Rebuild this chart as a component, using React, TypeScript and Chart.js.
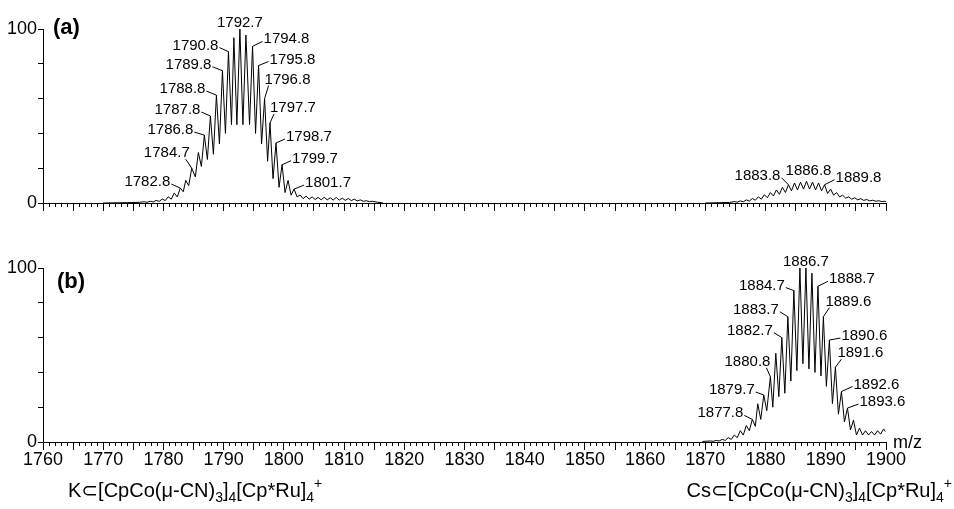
import React, { useEffect, useRef } from "react";
import { Chart, registerables } from "chart.js";
Chart.register(...registerables);

const FONT = "'Liberation Sans', Arial, Helvetica, 'DejaVu Sans', sans-serif";

// ---- axes ----
const X_MIN = 1760;
const X_MAX = 1900;
const X_MINOR_STEP = 1;
const X_MAJOR_STEP = 5;
const X_LABEL_STEP = 10;
const Y_MIN = 0;
const Y_MAX = 100;
const Y_STEP = 10;
const Y_TICK_TEXT: Record<number, string> = { 100: "100", 50: "%", 0: "0" };
const X_UNIT = "m/z";

// ---- spectrum (a): K cluster ----
const SPEC_A_K: [number, number][] = [
  [1770, 0], [1774, 0.2], [1776, 0.4],
  [1776.8, 0.7], [1777.3, 0.4], [1777.8, 1.0], [1778.3, 0.6], [1778.8, 1.5], [1779.3, 0.9],
  [1779.8, 2.3], [1780.3, 1.4], [1780.8, 3.6], [1781.3, 2.2], [1781.8, 5.7], [1782.3, 3.5],
  [1782.8, 8.6], [1783.3, 6.5], [1783.7, 13], [1784.2, 10], [1784.7, 20], [1785.3, 15],
  [1785.8, 29], [1786.3, 21], [1786.8, 39], [1787.3, 25], [1787.8, 50], [1788.3, 28],
  [1788.8, 62], [1789.3, 34], [1789.8, 76], [1790.3, 40], [1790.8, 87], [1791.3, 45],
  [1791.7, 95], [1792.2, 45], [1792.7, 100], [1793.2, 45], [1793.7, 96.5], [1794.3, 45],
  [1794.8, 90], [1795.3, 40], [1795.8, 79], [1796.3, 34], [1796.8, 60], [1797.3, 24],
  [1797.7, 46], [1798.2, 14], [1798.7, 34.5], [1799.2, 9], [1799.7, 22], [1800.2, 6],
  [1800.7, 13], [1801.2, 4.5], [1801.7, 8], [1802.2, 3.5], [1802.7, 4.6], [1803.2, 2.5],
  [1803.7, 4], [1804.2, 2.2], [1804.7, 3.5], [1805.2, 2], [1805.7, 3.2], [1806.2, 1.8],
  [1806.7, 3.3], [1807.2, 1.8], [1807.7, 3.0], [1808.2, 1.7], [1808.7, 3.2], [1809.2, 1.6],
  [1809.7, 2.8], [1810.2, 1.5], [1810.7, 2.6], [1811.2, 1.4], [1811.7, 2.2], [1812.2, 1.2],
  [1812.7, 1.8], [1813.2, 1.0], [1813.7, 1.3], [1814.2, 0.8], [1814.7, 1.0], [1815.5, 0.5],
  [1816.5, 0],
];

// ---- spectrum (a): Cs cluster ----
const SPEC_A_CS: [number, number][] = [
  [1870, 0], [1874, 0.3], [1874.8, 0.8], [1875.3, 0.5], [1875.8, 1.2], [1876.3, 0.7],
  [1876.8, 1.8], [1877.3, 1.1], [1877.8, 2.6], [1878.3, 1.6], [1878.8, 3.5], [1879.3, 2.2],
  [1879.8, 4.8], [1880.3, 3.0], [1880.8, 6.0], [1881.3, 4.0], [1881.8, 7.5], [1882.3, 5.0],
  [1882.8, 9.0], [1883.3, 6.0], [1883.8, 10.5], [1884.3, 7.0], [1884.8, 11.5], [1885.3, 7.5],
  [1885.8, 12.0], [1886.3, 8.0], [1886.8, 12.5], [1887.3, 8.0], [1887.8, 12.0], [1888.3, 7.5],
  [1888.8, 11.5], [1889.3, 7.0], [1889.8, 10.5], [1890.3, 5.5], [1890.8, 8.0], [1891.3, 4.5],
  [1891.8, 6.0], [1892.3, 3.5], [1892.8, 4.5], [1893.3, 2.8], [1893.8, 3.5], [1894.3, 2.2],
  [1894.8, 3.0], [1895.3, 1.8], [1895.8, 2.5], [1896.3, 1.5], [1896.8, 2.0], [1897.3, 1.2],
  [1897.8, 1.6], [1898.3, 1.0], [1898.8, 1.3], [1899.3, 0.8], [1899.8, 1.0], [1900, 0.8],
];

// ---- spectrum (b): Cs cluster ----
const SPEC_B_CS: [number, number][] = [
  [1869.5, 0.3], [1870.8, 0.6], [1871.3, 0.4], [1871.8, 0.9], [1872.3, 0.6], [1872.8, 1.5],
  [1873.3, 0.9], [1873.8, 2.5], [1874.3, 1.5], [1874.8, 4], [1875.3, 2.5], [1875.8, 6.5],
  [1876.3, 4], [1876.8, 9.5], [1877.3, 6.5], [1877.8, 13], [1878.3, 9], [1878.7, 22],
  [1879.2, 13], [1879.7, 27], [1880.2, 18], [1880.8, 37.5], [1881.2, 20], [1881.7, 51],
  [1882.2, 26], [1882.7, 60], [1883.2, 28], [1883.7, 72], [1884.2, 35], [1884.7, 87],
  [1885.2, 41], [1885.7, 100], [1886.2, 45], [1886.7, 100], [1887.2, 42], [1887.7, 97],
  [1888.2, 40], [1888.7, 89.5], [1889.2, 38], [1889.6, 72], [1890.1, 32], [1890.6, 58.6],
  [1891.1, 22], [1891.6, 43], [1892.1, 16], [1892.6, 29], [1893.1, 11.5], [1893.6, 19.5],
  [1894.1, 7], [1894.6, 12.5], [1895.1, 4], [1895.6, 8], [1896.1, 4], [1896.6, 6.5],
  [1897.1, 4], [1897.6, 6], [1898.1, 4], [1898.6, 6.5], [1899.1, 4.5], [1899.6, 7.5],
  [1899.9, 6],
];

// ---- peak labels (m/z of labelled peaks) ----
const LABELS_A = [1782.8, 1784.7, 1786.8, 1787.8, 1788.8, 1789.8, 1790.8, 1792.7, 1794.8,
  1795.8, 1796.8, 1797.7, 1798.7, 1799.7, 1801.7, 1883.8, 1886.8, 1889.8];
const LABELS_B = [1877.8, 1879.7, 1880.8, 1882.7, 1883.7, 1884.7, 1886.7, 1888.7, 1889.6,
  1890.6, 1891.6, 1892.6, 1893.6];

// ---- panel captions and formulas ----
const TAG_A = "(a)";
const TAG_B = "(b)";
type Part = [string, "n" | "sub" | "sup"];
const FORMULA_K: Part[] = [["K⊂[CpCo(μ-CN)", "n"], ["3", "sub"], ["]", "n"], ["4", "sub"],
  ["[Cp*Ru]", "n"], ["4", "sub"], ["+", "sup"]];
const FORMULA_CS: Part[] = [["Cs⊂[CpCo(μ-CN)", "n"], ["3", "sub"], ["]", "n"], ["4", "sub"],
  ["[Cp*Ru]", "n"], ["4", "sub"], ["+", "sup"]];

// ---- label layout (align, dx, dy of text anchor vs. peak tip; layout only) ----
type Lay = ["left" | "right" | "center", number, number];
const LAYOUT_A: Lay[] = [
  ["right", -10, -2], ["right", -2, -11], ["right", -11, -1], ["right", -10, -2],
  ["right", -11, -2], ["right", -11, -2], ["right", -10, -2], ["center", 0, -2],
  ["left", 11, -3], ["left", 11, -2], ["left", 0, -15], ["left", 0, -11],
  ["left", 10, -2], ["left", 10, -2], ["left", 11, -2],
  ["right", -8, -5], ["center", 2, -6], ["left", 11, -3],
];
const LAYOUT_B: Lay[] = [
  ["right", -9, -2], ["right", -9, -1], ["right", 0, -11], ["right", -9, -3],
  ["right", -9, -3], ["right", -9, -1], ["center", 0, -2], ["left", 11, -3],
  ["left", 2, -11], ["left", 12, 0], ["left", 2, -10], ["left", 12, -3], ["left", 12, -2],
];

function drawRich(ctx: CanvasRenderingContext2D, parts: Part[], x: number, y: number, align: "left" | "right") {
  const sizes = { n: 20, sub: 14, sup: 14 };
  const offs = { n: 0, sub: 5, sup: -9 };
  let total = 0;
  parts.forEach(([t, k]) => {
    ctx.font = `${sizes[k]}px ${FONT}`;
    total += ctx.measureText(t).width;
  });
  let cx = align === "left" ? x : x - total;
  ctx.textAlign = "left";
  ctx.textBaseline = "alphabetic";
  parts.forEach(([t, k]) => {
    ctx.font = `${sizes[k]}px ${FONT}`;
    ctx.fillText(t, cx, y + offs[k]);
    cx += ctx.measureText(t).width;
  });
}

type PanelCfg = {
  series: [number, number][][];
  labels: number[];
  layout: Lay[];
  tag: string;
  tagX: number;
  tagY: number;
  showXLabels: boolean;
  padTop: number;
  xAxisHeight: number;
  extra?: (ctx: CanvasRenderingContext2D) => void;
};

function buildPanel(canvas: HTMLCanvasElement, cfg: PanelCfg) {
  const allPts = cfg.series.flat();
  const plugin = {
    id: "annot",
    afterDraw(chart: any) {
      const ctx: CanvasRenderingContext2D = chart.ctx;
      const xs = chart.scales.x;
      const ys = chart.scales.y;
      ctx.save();
      ctx.strokeStyle = "#000";
      ctx.fillStyle = "#000";
      ctx.lineWidth = 1;
      // major x ticks
      for (let v = X_MIN; v <= X_MAX; v += X_MAJOR_STEP) {
        const x = Math.round(xs.getPixelForValue(v) - 0.5) + 0.5;
        ctx.beginPath();
        ctx.moveTo(x, xs.top);
        ctx.lineTo(x, xs.top + 8);
        ctx.stroke();
      }
      // peak labels
      ctx.font = `15px ${FONT}`;
      ctx.textBaseline = "alphabetic";
      cfg.labels.forEach((mz, i) => {
        const pt = allPts.find((p) => Math.abs(p[0] - mz) < 1e-6);
        if (!pt) return;
        const px = xs.getPixelForValue(pt[0]);
        const py = ys.getPixelForValue(pt[1]);
        const [align, dx, dy] = cfg.layout[i];
        const text = mz.toFixed(1);
        const w = ctx.measureText(text).width;
        let left: number;
        if (align === "right") left = px + dx - w;
        else if (align === "left") left = px + dx;
        else left = px + dx - w / 2;
        const right = left + w;
        const base = py + dy;
        ctx.textAlign = "left";
        ctx.fillText(text, left, base);
        if (align !== "center") {
          let sx: number, sy: number;
          if (px > right + 4) { sx = right + 1; sy = base - 2; }
          else if (px < left - 4) { sx = left - 1; sy = base - 2; }
          else { sx = Math.min(Math.max(px, left + 4), right - 4); sy = base + 2; }
          ctx.beginPath();
          ctx.moveTo(sx, sy);
          ctx.lineTo(px, py);
          ctx.stroke();
        }
      });
      // panel tag
      ctx.font = `bold 22px ${FONT}`;
      ctx.textAlign = "left";
      ctx.fillText(cfg.tag, cfg.tagX, cfg.tagY);
      if (cfg.extra) cfg.extra(ctx);
      ctx.restore();
    },
  };

  return new Chart(canvas, {
    type: "line",
    data: {
      datasets: cfg.series.map((s) => ({
        data: s.map(([x, y]) => ({ x, y })),
        borderColor: "#000",
        borderWidth: 1,
        pointRadius: 0,
        tension: 0,
        fill: false,
      })),
    },
    options: {
      animation: false,
      responsive: false,
      devicePixelRatio: 1,
      events: [],
      layout: { padding: { top: cfg.padTop, right: 68, left: 0, bottom: 0 } },
      plugins: { legend: { display: false }, tooltip: { enabled: false } },
      scales: {
        x: {
          type: "linear",
          min: X_MIN,
          max: X_MAX,
          afterFit: (s: any) => { s.height = cfg.xAxisHeight; },
          ticks: {
            stepSize: X_MINOR_STEP,
            autoSkip: false,
            maxRotation: 0,
            minRotation: 0,
            padding: 3,
            color: "#000",
            font: { family: FONT, size: 18 },
            callback: (v: any) => (cfg.showXLabels && Number(v) % X_LABEL_STEP === 0 ? String(v) : ""),
          },
          grid: { display: true, drawOnChartArea: false, drawTicks: true, tickLength: 4, color: "#000", lineWidth: 1 },
          border: { display: true, color: "#000", width: 1 },
        },
        y: {
          type: "linear",
          min: Y_MIN,
          max: Y_MAX,
          afterFit: (s: any) => { s.width = 43; },
          ticks: {
            stepSize: Y_STEP,
            padding: 1,
            color: "#000",
            font: { family: FONT, size: 18 },
            callback: (v: any) => Y_TICK_TEXT[Number(v)] ?? "",
          },
          grid: { display: true, drawOnChartArea: false, drawTicks: true, tickLength: 5, color: "#000", lineWidth: 1 },
          border: { display: true, color: "#000", width: 1 },
        },
      },
    } as any,
    plugins: [plugin],
  });
}

export default function App() {
  const refA = useRef<HTMLCanvasElement>(null);
  const refB = useRef<HTMLCanvasElement>(null);
  useEffect(() => {
    const a = buildPanel(refA.current!, {
      series: [SPEC_A_K, SPEC_A_CS],
      labels: LABELS_A,
      layout: LAYOUT_A,
      tag: TAG_A,
      tagX: 53,
      tagY: 34,
      showXLabels: false,
      padTop: 29,
      xAxisHeight: 17,
    });
    const b = buildPanel(refB.current!, {
      series: [SPEC_B_CS],
      labels: LABELS_B,
      layout: LAYOUT_B,
      tag: TAG_B,
      tagX: 57,
      tagY: 48,
      showXLabels: true,
      padTop: 28,
      xAxisHeight: 67,
      extra: (ctx) => {
        ctx.font = `18px ${FONT}`;
        ctx.textAlign = "left";
        ctx.textBaseline = "alphabetic";
        ctx.fillText(X_UNIT, 893, 208);
        drawRich(ctx, FORMULA_K, 68, 257, "left");
        drawRich(ctx, FORMULA_CS, 952, 257, "right");
      },
    });
    return () => { a.destroy(); b.destroy(); };
  }, []);
  return (
    <div style={{ position: "absolute", left: 0, top: 0, width: 954, height: 509, background: "#fff" }}>
      <canvas ref={refA} width={954} height={220} style={{ position: "absolute", left: 0, top: 0, width: 954, height: 220 }} />
      <canvas ref={refB} width={954} height={269} style={{ position: "absolute", left: 0, top: 240, width: 954, height: 269 }} />
    </div>
  );
}
